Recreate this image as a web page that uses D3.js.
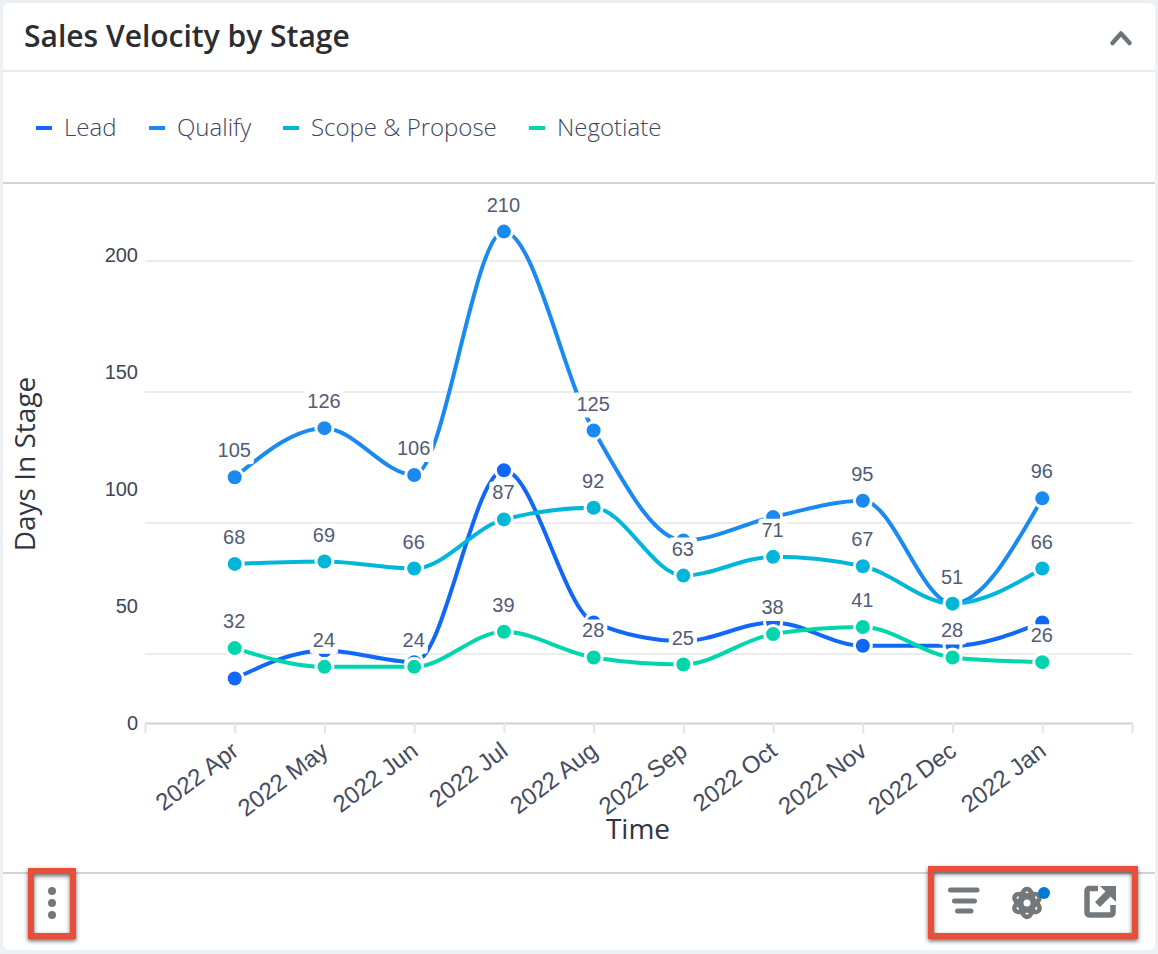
<!DOCTYPE html>
<html>
<head>
<meta charset="utf-8">
<script src="https://cdn.jsdelivr.net/npm/d3@7/dist/d3.min.js"></script>
<style>
html,body{margin:0;padding:0;background:#eef1f3;}
svg{display:block;}
</style>
</head>
<body>
<svg id="chart" width="1158" height="954"></svg>
<script>
const months = ["2022 Apr","2022 May","2022 Jun","2022 Jul","2022 Aug","2022 Sep","2022 Oct","2022 Nov","2022 Dec","2022 Jan"];
const seriesNames = ["Lead","Qualify","Scope & Propose","Negotiate"];
const seriesColors = ["#1068f5","#1a8af0","#02b6da","#00d5ad"];

const leadValues      = [19,31,26,108,43,35,43,33,33,43];
const qualifyValues   = [105,126,106,210,125,78,88,95,51,96];
const scopeValues     = [68,69,66,87,92,63,71,67,51,66];
const negotiateValues = [32,24,24,39,28,25,38,41,28,26];
const seriesValues = [leadValues,qualifyValues,scopeValues,negotiateValues];

// Labels the chart leaves out where they would collide with a neighbour
const qualifyHidden = ["2022 Sep","2022 Oct","2022 Dec"];
const seriesHidden = [months, qualifyHidden, [], []];

const yTicks = [0,50,100,150,200];
const gridValues = [29.5,85.5,141.5,197.5];

const svg = d3.select("#chart");
const defs = svg.append("defs");
const sh = defs.append("filter").attr("id","boxShadow")
  .attr("x","-20%").attr("y","-20%").attr("width","140%").attr("height","140%");
sh.append("feDropShadow").attr("dx",0).attr("dy",2).attr("stdDeviation",2.2)
  .attr("flood-color","#333").attr("flood-opacity",0.75);

// Card and its dividers
svg.append("rect").attr("x",3).attr("y",3).attr("width",1152).attr("height",947)
  .attr("rx",6).attr("fill","#fff");
const dividers = [[71,"#e8ecee"],[183,"#d2d3d4"],[873,"#d2d3d4"]];
svg.selectAll("line.divider").data(dividers).join("line").attr("class","divider")
  .attr("x1",3).attr("x2",1155).attr("y1",d=>d[0]).attr("y2",d=>d[0])
  .attr("stroke",d=>d[1]).attr("stroke-width",2);

svg.append("text").attr("x",24).attr("y",47).text("Sales Velocity by Stage")
  .attr("font-family","'Open Sans'").attr("font-weight",600).attr("font-size",30)
  .attr("fill","#2b2d30");

svg.append("path").attr("d","M1112.500,43 L1121,33.500 L1129.500,43")
  .attr("fill","none").attr("stroke","#6e757a").attr("stroke-width",4.5).attr("stroke-linejoin","round").attr("stroke-linecap","round");

// Legend
const legendDash = [36,149,283,529];
const legend = svg.append("g").selectAll("g").data(seriesNames).join("g")
  .attr("transform",(d,i)=>`translate(${legendDash[i]},128)`);
legend.append("rect").attr("y",-2).attr("width",16).attr("height",4).attr("fill",(d,i)=>seriesColors[i]);
legend.append("text").attr("x",28).attr("y",8).text(d=>d)
  .attr("font-family","'Open Sans'").attr("font-weight",300).attr("font-size",24).attr("fill","#3f465c");

// Scales
const x = d3.scaleLinear().domain([-1,10]).range([145,1132]);
const y = d3.scaleLinear().domain([0,200]).range([723,255]);

// Grid
svg.append("g").selectAll("line").data(gridValues).join("line")
  .attr("x1",145).attr("x2",1132)
  .attr("y1",d=>Math.round(y(d))).attr("y2",d=>Math.round(y(d)))
  .attr("stroke","#ececec").attr("stroke-width",2);

// Axes
const yAxis = svg.append("g").attr("transform","translate(145,0)")
  .call(d3.axisLeft(y).tickValues(yTicks).tickSize(0).tickPadding(7));
yAxis.select(".domain").remove();
yAxis.selectAll("text").attr("font-family","'Liberation Sans'").attr("font-size",20).attr("fill","#3e4558");

const xAxis = svg.append("g").attr("transform","translate(0,723)")
  .call(d3.axisBottom(x).tickValues(d3.range(-1,11)).tickSize(10).tickSizeOuter(0)
    .tickFormat(i=>months[i]||""));
xAxis.select(".domain").attr("stroke","#d0d0d0").attr("stroke-width",2);
xAxis.selectAll(".tick line").attr("stroke","#e4e4e4").attr("stroke-width",2);
xAxis.selectAll("text").attr("font-family","'Liberation Sans'").attr("font-size",24).attr("fill","#454c60")
  .attr("text-anchor","end").attr("dy",0).attr("y",0)
  .attr("transform","translate(5,31) rotate(-37)");

svg.append("text").attr("x",638).attr("y",839).attr("text-anchor","middle").text("Time")
  .attr("font-family","'Open Sans'").attr("font-size",28).attr("fill","#2f3542");
svg.append("text").attr("transform","translate(35,464) rotate(-90)").attr("text-anchor","middle").text("Days In Stage")
  .attr("font-family","'Open Sans'").attr("font-size",28).attr("fill","#2f3542");

// Series lines and markers
const line = d3.line().x((d,i)=>x(i)).y(d=>y(d)).curve(d3.curveMonotoneX);
const series = svg.append("g").selectAll("g").data(seriesValues).join("g");
series.append("path").attr("d",d=>line(d)).attr("fill","none")
  .attr("stroke",(d,i)=>seriesColors[i]).attr("stroke-width",4);
series.each(function(vals,s){
  const g = d3.select(this);
  g.selectAll("circle.halo").data(vals).join("circle").attr("class","halo")
    .attr("cx",(d,i)=>x(i)).attr("cy",d=>y(d)).attr("r",10).attr("fill","#fff");
  g.selectAll("circle.dot").data(vals).join("circle").attr("class","dot")
    .attr("cx",(d,i)=>x(i)).attr("cy",d=>y(d)).attr("r",7).attr("fill",seriesColors[s]);
});

// Value labels with a white backing that sits above the marks
const labels = svg.append("g");
seriesValues.forEach((vals,s)=>{
  vals.forEach((v,i)=>{
    if (seriesHidden[s].includes(months[i])) return;
    const g = labels.append("g").attr("transform",`translate(${x(i)-0.5},${y(v)-27})`);
    const t = g.append("text").attr("text-anchor","middle").attr("dy","0.35em").text(v)
      .attr("font-family","'Liberation Sans'").attr("font-size",20).attr("fill","#515c78");
    const b = t.node().getBBox();
    g.insert("rect","text").attr("x",b.x-3).attr("y",-11).attr("width",b.width+6).attr("height",25)
      .attr("rx",3).attr("fill","#fff");
  });
});

// Footer icons
const iconColor = "#73787c";
const menuDots = [891,903,915];
svg.selectAll("circle.menu").data(menuDots).join("circle").attr("class","menu")
  .attr("cx",52).attr("cy",d=>d).attr("r",4).attr("fill",iconColor);

const bars = [[950.5,977,890],[954.5,974.5,901],[957.5,971,911]];
svg.selectAll("line.filt").data(bars).join("line").attr("class","filt")
  .attr("x1",d=>d[0]).attr("x2",d=>d[1]).attr("y1",d=>d[2]).attr("y2",d=>d[2])
  .attr("stroke",iconColor).attr("stroke-width",5).attr("stroke-linecap","round");

const atom = svg.append("g").attr("transform","translate(1027,903)");
[30,90,150].forEach(a=>atom.append("ellipse").attr("rx",14).attr("ry",6.500).attr("transform",`rotate(${a})`)
  .attr("fill","none").attr("stroke",iconColor).attr("stroke-width",4.500));
atom.append("circle").attr("r",5.500).attr("fill","#fff").attr("stroke",iconColor).attr("stroke-width",4);
svg.append("circle").attr("cx",1044).attr("cy",893).attr("r",6).attr("fill","#0679d4");

svg.append("path").attr("d","M1098,888.500 H1090 Q1087,888.500 1087,891.500 V912 Q1087,915 1090,915 H1110 Q1113,915 1113,912 V905")
  .attr("fill","none").attr("stroke",iconColor).attr("stroke-width",5.5);
svg.append("path").attr("d","M1100,886 H1116 V902 L1110.500,896.500 L1100,907 L1095,902 L1105.500,891.500 Z").attr("fill",iconColor);

// Callout boxes around the footer controls
const boxes = [[31,871,42,65],[931,869,204,67]];
svg.selectAll("rect.callout").data(boxes).join("rect").attr("class","callout")
  .attr("x",d=>d[0]).attr("y",d=>d[1]).attr("width",d=>d[2]).attr("height",d=>d[3])
  .attr("fill","none").attr("stroke","#e8503a").attr("stroke-width",6).attr("filter","url(#boxShadow)");
</script>
</body>
</html>
